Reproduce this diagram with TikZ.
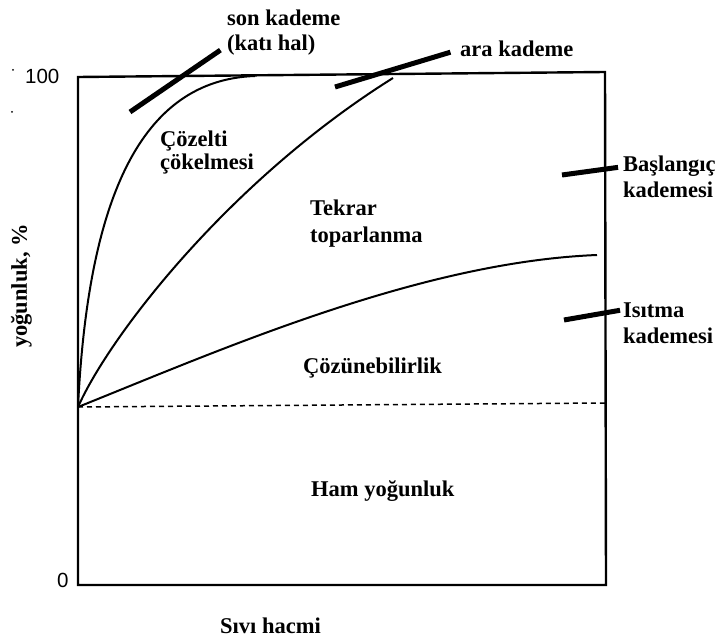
\documentclass[tikz,border=0pt]{standalone}
\usepackage{fontspec}
\setmainfont{Liberation Serif}
\newfontfamily\numfont{Liberation Sans}
\begin{document}
\begin{tikzpicture}[x=1pt,y=-1pt,
  lbl/.style={font=\fontsize{22.5}{25}\selectfont\bfseries, inner sep=0pt, anchor=base west},
  num/.style={font=\numfont\fontsize{20.5}{22}\selectfont, inner sep=0pt, anchor=base west},
  frame/.style={line width=2.4pt, line join=miter},
  curve/.style={line width=2pt},
  leader/.style={line width=5pt},
  base/.style={line width=1.5pt, dash pattern=on 5pt off 4pt},
  speck/.style={fill=black, inner sep=0pt, minimum size=2pt, circle}]
\useasboundingbox (0,0) rectangle (720,639);

% plot frame
\draw[frame] (78,77) -- (605,72) -- (606,585) -- (78,585) -- cycle;

% curves fanning out from the starting density
\coordinate (o) at (78,407);
\coordinate (c1end) at (255,76);
\coordinate (c2end) at (393,78);
\coordinate (c3end) at (597,255);
\coordinate (dashend) at (605,403);
\draw[curve] (o) .. controls (88,200) and (140,80) .. (c1end);
\draw[curve] (o) .. controls (110,335) and (230,180) .. (c2end);
\draw[curve] (o) .. controls (220,350) and (420,262) .. (c3end);
\draw[base] (o) -- (dashend);

% axis labels and ticks
\node[num] (n100) at (25,84) {100};
\node[num] (n0) at (57,587) {0};
\node[lbl, rotate=90] (ylab) at (27,348) {yoğunluk, \%};
\node[lbl] (xlab) at (220,633) {Sıvı hacmi};
\node[speck] (s1) at (13,70) {};
\node[speck] (s2) at (12,112) {};

% region labels
\node[lbl] (r1a) at (160,147) {Çözelti};
\node[lbl] (r1b) at (160,170) {çökelmesi};
\node[lbl] (r2a) at (310,215) {Tekrar};
\node[lbl] (r2b) at (310,242) {toparlanma};
\node[lbl] (r3) at (303,373) {Çözünebilirlik};
\node[lbl] (r4) at (311,496) {Ham yoğunluk};

% stage labels with leaders
\node[lbl] (sonA) at (227,26) {son kademe};
\node[lbl] (sonB) at (227,51) {(katı hal)};
\node[lbl] (ara) at (460,57) {ara kademe};
\node[lbl] (basA) at (623,172) {Başlangıç};
\node[lbl] (basB) at (623,197) {kademesi};
\node[lbl] (isiA) at (623,317) {Isıtma};
\node[lbl] (isiB) at (623,343) {kademesi};

\coordinate (l1) at (130,112);
\coordinate (l2) at (335,87);
\coordinate (l3) at (562,175);
\coordinate (l4) at (564,320);
\draw[leader, shorten >=8pt] (l1) -- (sonB.west);
\draw[leader, shorten >=10pt] (l2) -- (ara.west);
\draw[leader, shorten >=5pt] (l3) -- (basA.west);
\draw[leader, shorten >=3pt] (l4) -- (isiA.west);
\end{tikzpicture}
\end{document}
